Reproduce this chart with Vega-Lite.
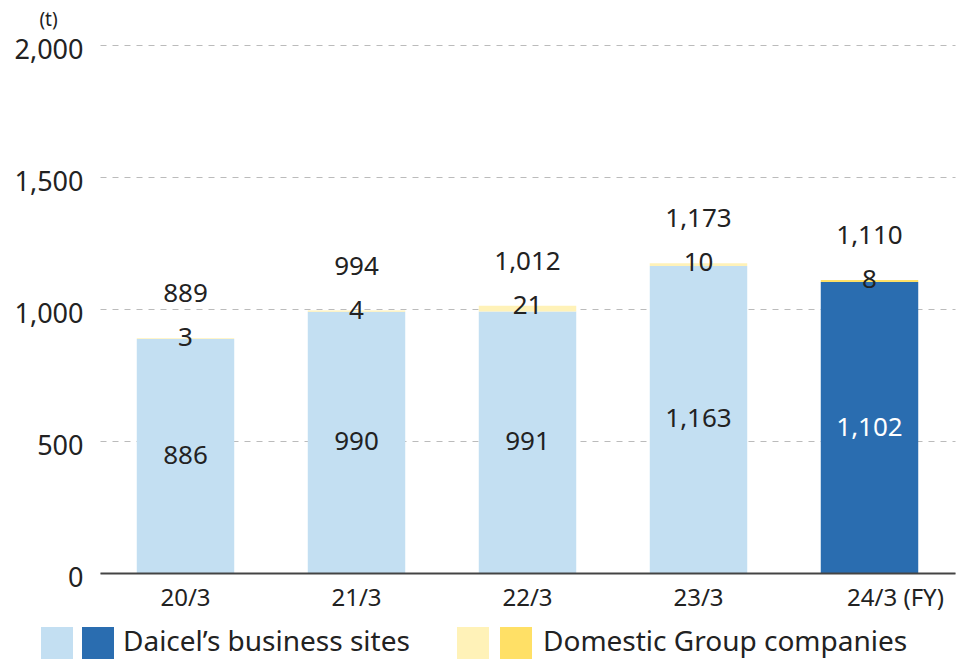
{
  "$schema": "https://vega.github.io/schema/vega-lite/v6.json",
  "width": 855,
  "height": 528,
  "autosize": {"type": "none"},
  "padding": {"left": 100, "top": 45, "right": 4, "bottom": 86},
  "config": {"font": "Noto Sans", "view": {"stroke": null}},
  "data": {
    "values": [
      {"year": "20/3", "daicel": 886, "domestic": 3, "total": 889, "period": "past"},
      {"year": "21/3", "daicel": 990, "domestic": 4, "total": 994, "period": "past"},
      {"year": "22/3", "daicel": 991, "domestic": 21, "total": 1012, "period": "past"},
      {"year": "23/3", "daicel": 1163, "domestic": 10, "total": 1173, "period": "past"},
      {"year": "24/3 (FY)", "daicel": 1102, "domestic": 8, "total": 1110, "period": "current"}
    ]
  },
  "encoding": {
    "x": {
      "field": "year",
      "type": "nominal",
      "sort": null,
      "scale": {"paddingInner": 0.43, "paddingOuter": 0.215},
      "axis": {
        "title": null,
        "labelAngle": 0,
        "ticks": false,
        "domainColor": "#444",
        "domainWidth": 2,
        "labelPadding": 13,
        "labelFontSize": 24,
        "labelColor": "#222",
        "zindex": 1,
        "labelOffset": {"condition": {"test": "datum.value === '24/3 (FY)'", "value": 26}, "value": 0}
      }
    }
  },
  "layer": [
    {
      "mark": {"type": "bar"},
      "encoding": {
        "y": {
          "field": "daicel",
          "type": "quantitative",
          "stack": null,
          "scale": {"domain": [0, 2000]},
          "axis": {
            "title": "(t)",
            "titleAngle": 0,
            "titleFontSize": 19,
            "titleFontWeight": "normal",
            "titleColor": "#222",
            "titleX": -52,
            "titleY": -26,
            "titleAlign": "center",
            "titleBaseline": "middle",
            "values": [0, 500, 1000, 1500, 2000],
            "format": ",d",
            "labelFontSize": 27,
            "labelColor": "#222",
            "labelPadding": 17,
            "labelOffset": 5,
            "ticks": false,
            "domain": false,
            "grid": true,
            "gridDash": [6, 6],
            "gridColor": "#bbbbbb"
          }
        },
        "color": {
          "field": "period",
          "type": "nominal",
          "scale": {"domain": ["past", "current"], "range": ["#C3DFF2", "#2A6DB0"]},
          "legend": {
            "title": null,
            "orient": "none",
            "legendX": -59,
            "legendY": 582,
            "direction": "horizontal",
            "symbolType": "square",
            "symbolSize": 1024,
            "symbolStrokeWidth": 0,
            "symbolOpacity": 1,
            "labelFontSize": 28,
            "labelColor": "#222",
            "labelOffset": 9,
            "labelLimit": 500,
            "columnPadding": 0,
            "labelExpr": "datum.value == 'current' ? 'Daicel’s business sites' : ''"
          }
        }
      }
    },
    {
      "mark": {"type": "bar"},
      "encoding": {
        "y": {"field": "daicel", "type": "quantitative", "scale": {"domain": [0, 2000]}, "axis": null},
        "y2": {"field": "total"},
        "color": {
          "field": "period",
          "type": "nominal",
          "scale": {"domain": ["past", "current"], "range": ["#FFF2B8", "#FFE066"]},
          "legend": {
            "title": null,
            "orient": "none",
            "legendX": 357,
            "legendY": 582,
            "direction": "horizontal",
            "symbolType": "square",
            "symbolSize": 1024,
            "symbolStrokeWidth": 0,
            "symbolOpacity": 1,
            "labelFontSize": 28,
            "labelColor": "#222",
            "labelOffset": 11,
            "labelLimit": 500,
            "columnPadding": 0,
            "labelExpr": "datum.value == 'current' ? 'Domestic Group companies' : ''"
          }
        }
      }
    },
    {
      "mark": {"type": "text", "fontSize": 26, "baseline": "middle"},
      "encoding": {
        "y": {"field": "daicel", "type": "quantitative", "scale": {"domain": [0, 4000]}, "axis": null},
        "text": {"field": "daicel", "type": "quantitative", "format": ",d"},
        "color": {"condition": {"test": "datum.period === 'current'", "value": "#ffffff"}, "value": "#222222"}
      }
    },
    {
      "mark": {"type": "text", "fontSize": 26, "baseline": "middle", "color": "#222222"},
      "encoding": {
        "y": {"field": "total", "type": "quantitative", "scale": {"domain": [0, 2000]}, "axis": null},
        "text": {"field": "domestic", "type": "quantitative", "format": ",d"}
      }
    },
    {
      "mark": {"type": "text", "fontSize": 26, "baseline": "middle", "dy": -44, "color": "#222222"},
      "encoding": {
        "y": {"field": "total", "type": "quantitative", "scale": {"domain": [0, 2000]}, "axis": null},
        "text": {"field": "total", "type": "quantitative", "format": ",d"}
      }
    }
  ],
  "resolve": {"scale": {"y": "independent", "color": "independent"}}
}
